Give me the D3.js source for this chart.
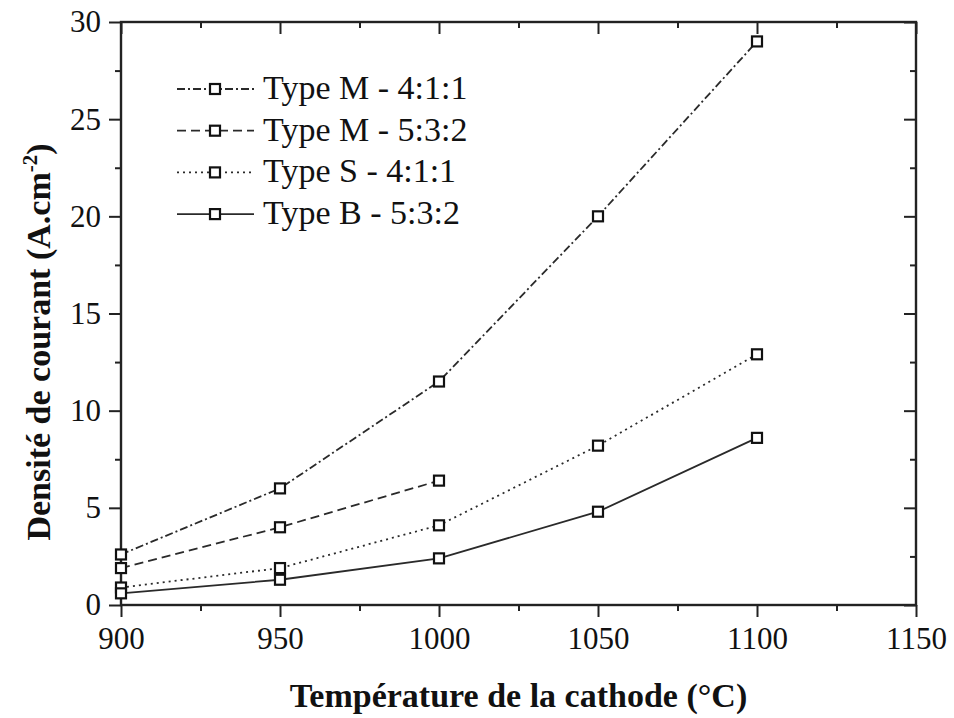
<!DOCTYPE html>
<html>
<head>
<meta charset="utf-8">
<script src="https://cdn.jsdelivr.net/npm/d3@7"></script>
<style>
  html, body { margin: 0; padding: 0; background: #fff; }
  svg { display: block; }
</style>
</head>
<body>
<svg id="chart" width="954" height="718"></svg>
<script>
// Cathode temperature (°C)
const temperatures = [900, 950, 1000, 1050, 1100];

// Current density (A.cm^-2) per cathode type
const typeM411 = [2.6, 6.0, 11.5, 20.0, 29.0];
const typeM532 = [1.9, 4.0, 6.4];
const typeS411 = [0.9, 1.9, 4.1, 8.2, 12.9];
const typeB532 = [0.6, 1.3, 2.4, 4.8, 8.6];

const seriesNames = ["Type M - 4:1:1", "Type M - 5:3:2", "Type S - 4:1:1", "Type B - 5:3:2"];
const seriesValues = [typeM411, typeM532, typeS411, typeB532];
const seriesDash = ["8,3,2,3", "9,5", "2,4", null];

const xTicks = [900, 950, 1000, 1050, 1100, 1150];
const yTicks = [0, 5, 10, 15, 20, 25, 30];

const FONT = "'Liberation Serif', 'Times New Roman', serif";

const svg = d3.select("#chart");
const margin = { left: 121, right: 954 - 916, top: 22, bottom: 718 - 605 };
const width = 954 - margin.left - margin.right;
const height = 718 - margin.top - margin.bottom;

const x = d3.scaleLinear().domain([900, 1150]).range([margin.left, margin.left + width]);
const y = d3.scaleLinear().domain([0, 30]).range([margin.top + height, margin.top]);

const axisColor = "#222";
const g = svg.append("g");

// Minor ticks
const xMinor = d3.range(925, 1150, 50);
const yMinor = d3.range(2.5, 30, 5);

function styleAxis(sel) {
  sel.attr("font-family", FONT);
  sel.select(".domain").remove();
  sel.selectAll("line").attr("stroke", axisColor).attr("stroke-width", 2);
  sel.selectAll("text")
    .style("font-family", FONT)
    .style("font-size", "31px")
    .attr("fill", "#111");
}

// Bottom axis (ticks outward)
g.append("g").attr("transform", `translate(0,${y(0)})`)
  .call(d3.axisBottom(x).tickValues(xTicks).tickFormat(d3.format("d")).tickSize(12).tickPadding(10))
  .call(styleAxis);
g.append("g").attr("transform", `translate(0,${y(0)})`)
  .call(d3.axisBottom(x).tickValues(xMinor).tickFormat("").tickSize(6))
  .call(styleAxis);

// Left axis (ticks outward)
g.append("g").attr("transform", `translate(${x(900)},0)`)
  .call(d3.axisLeft(y).tickValues(yTicks).tickFormat(d3.format("d")).tickSize(12).tickPadding(8))
  .call(styleAxis);
g.append("g").attr("transform", `translate(${x(900)},0)`)
  .call(d3.axisLeft(y).tickValues(yMinor).tickFormat("").tickSize(6))
  .call(styleAxis);

// Top axis (ticks inward)
g.append("g").attr("transform", `translate(0,${y(30)})`)
  .call(d3.axisBottom(x).tickValues(xTicks).tickFormat("").tickSize(12))
  .call(styleAxis);
g.append("g").attr("transform", `translate(0,${y(30)})`)
  .call(d3.axisBottom(x).tickValues(xMinor).tickFormat("").tickSize(6))
  .call(styleAxis);

// Right axis (ticks inward)
g.append("g").attr("transform", `translate(${x(1150)},0)`)
  .call(d3.axisLeft(y).tickValues(yTicks).tickFormat("").tickSize(12))
  .call(styleAxis);
g.append("g").attr("transform", `translate(${x(1150)},0)`)
  .call(d3.axisLeft(y).tickValues(yMinor).tickFormat("").tickSize(6))
  .call(styleAxis);

// Frame
g.append("rect")
  .attr("x", x(900)).attr("y", y(30))
  .attr("width", x(1150) - x(900)).attr("height", y(0) - y(30))
  .attr("fill", "none").attr("stroke", axisColor).attr("stroke-width", 2.4);

// Series lines
const line = d3.line().x(d => x(d[0])).y(d => y(d[1]));
const markerSize = 10;

seriesValues.forEach((vals, i) => {
  const pts = vals.map((v, k) => [temperatures[k], v]);
  g.append("path")
    .attr("d", line(pts))
    .attr("fill", "none")
    .attr("stroke", "#2a2a2a")
    .attr("stroke-width", 1.8)
    .attr("stroke-dasharray", seriesDash[i]);
});

seriesValues.forEach((vals, i) => {
  const pts = vals.map((v, k) => [temperatures[k], v]);
  g.selectAll(null).data(pts).enter().append("rect")
    .attr("x", d => x(d[0]) - markerSize / 2)
    .attr("y", d => y(d[1]) - markerSize / 2)
    .attr("width", markerSize).attr("height", markerSize)
    .attr("fill", "#fff").attr("stroke", "#111").attr("stroke-width", 2.2);
});

// Legend
const legend = g.append("g");
const legendX0 = 177, legendX1 = 254, legendMark = 215, legendText = 263;
const legendY0 = 89, legendStep = 41.7;
seriesNames.forEach((name, i) => {
  const ly = legendY0 + i * legendStep;
  legend.append("line")
    .attr("x1", legendX0).attr("x2", legendX1).attr("y1", ly).attr("y2", ly)
    .attr("stroke", "#2a2a2a").attr("stroke-width", 1.8)
    .attr("stroke-dasharray", seriesDash[i]);
  legend.append("rect")
    .attr("x", legendMark - markerSize / 2).attr("y", ly - markerSize / 2)
    .attr("width", markerSize).attr("height", markerSize)
    .attr("fill", "#fff").attr("stroke", "#111").attr("stroke-width", 2.2);
  legend.append("text")
    .attr("x", legendText).attr("y", ly + 10)
    .attr("fill", "#111")
    .style("font-family", FONT)
    .style("font-size", "34px")
    .text(name);
});

// Axis titles
svg.append("text")
  .attr("x", (x(900) + x(1150)) / 2)
  .attr("y", 707)
  .attr("text-anchor", "middle")
  .attr("fill", "#111")
  .style("font-family", FONT)
  .style("font-size", "34px").style("font-weight", "bold")
  .text("Température de la cathode (°C)");

const yTitle = svg.append("text")
  .attr("transform", `translate(50,342) rotate(-90)`)
  .attr("text-anchor", "middle")
  .attr("fill", "#111")
  .style("font-family", FONT)
  .style("font-size", "34px").style("font-weight", "bold");
yTitle.append("tspan").text("Densité de courant (A.cm");
yTitle.append("tspan").attr("dy", -13).style("font-size", "21px").text("-2");
yTitle.append("tspan").attr("dy", 13).text(")");
</script>
</body>
</html>
